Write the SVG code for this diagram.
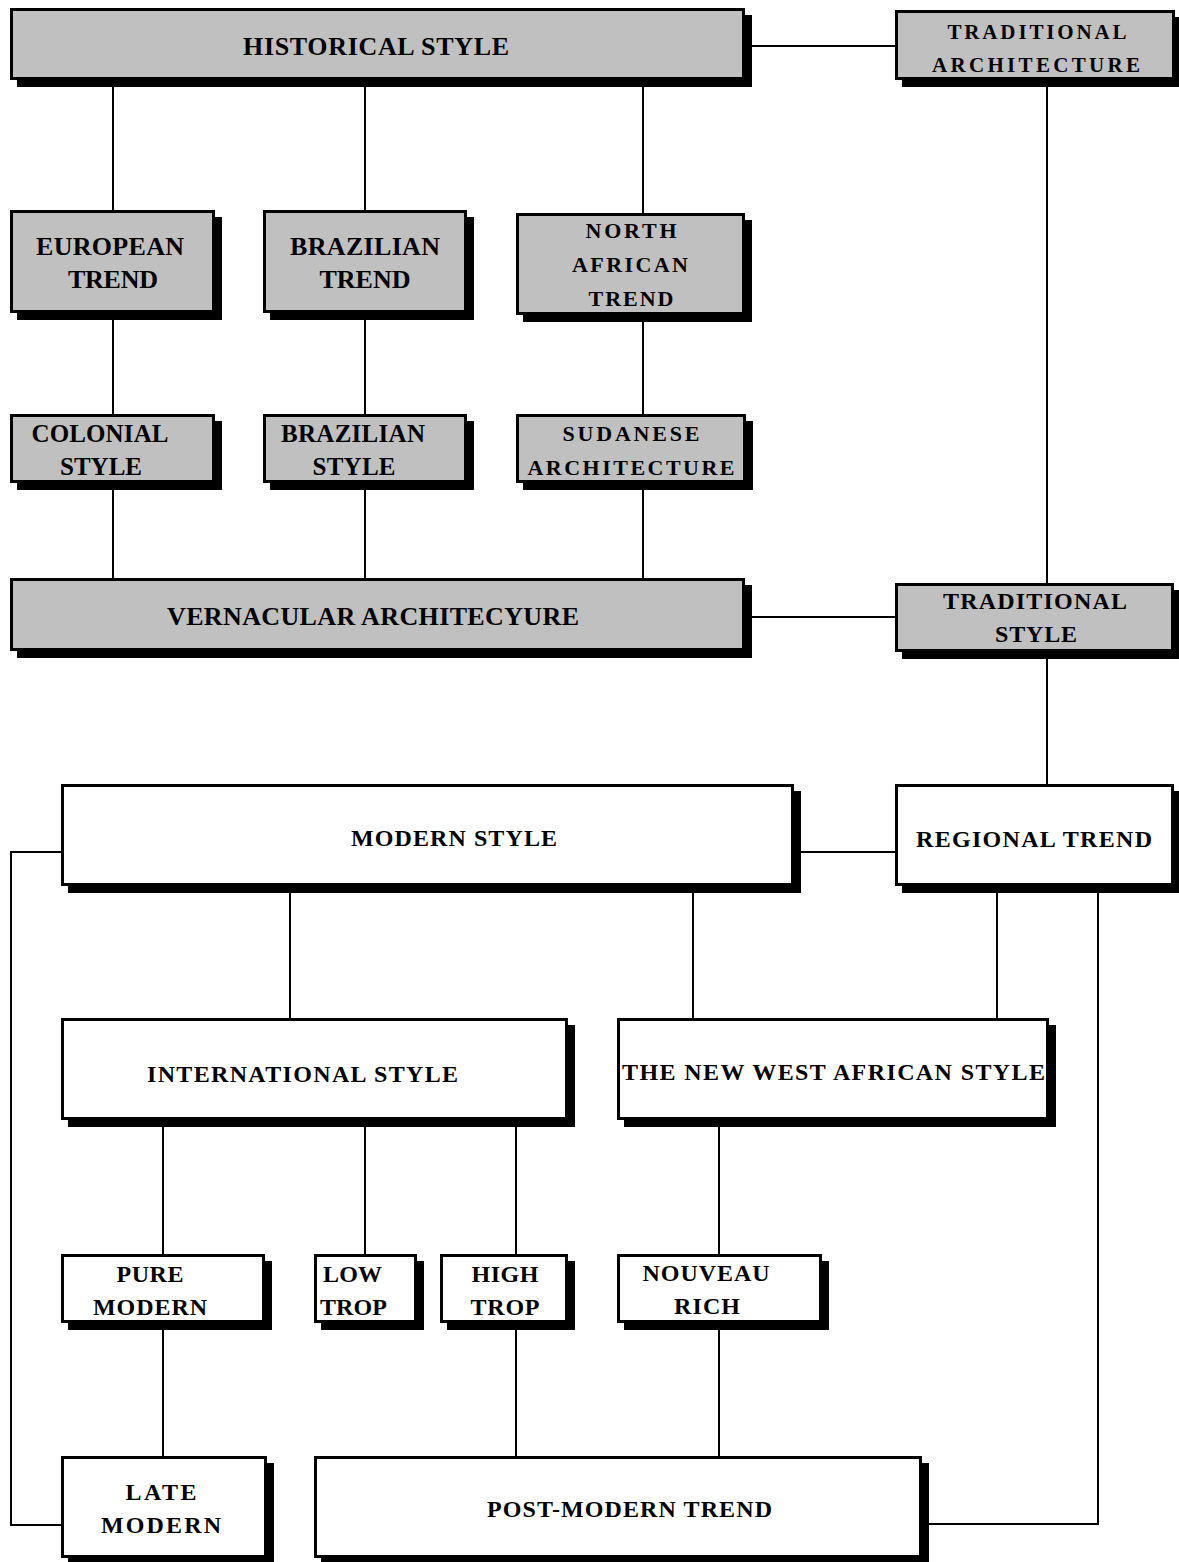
<svg xmlns="http://www.w3.org/2000/svg" width="1179" height="1562" viewBox="0 0 1179 1562">
<style>
.sh{fill:#000;}
.g{fill:#c0c0c0;stroke:#000;stroke-width:3;}
.w{fill:#fff;stroke:#000;stroke-width:3;}
.c{fill:none;stroke:#000;stroke-width:2;}
text{font-family:"Liberation Serif","Times New Roman",serif;font-weight:bold;fill:#000;text-anchor:middle;}
.s{text-anchor:start;}
</style>
<rect x="0" y="0" width="1179" height="1562" fill="#fff"/>
<g id="connectors">
<line class="c" x1="113" y1="80" x2="113" y2="210"/>
<line class="c" x1="365" y1="80" x2="365" y2="210"/>
<line class="c" x1="643" y1="80" x2="643" y2="213"/>
<line class="c" x1="745" y1="46" x2="895" y2="46"/>
<line class="c" x1="1047" y1="80" x2="1047" y2="583"/>
<line class="c" x1="113" y1="313" x2="113" y2="414"/>
<line class="c" x1="365" y1="313" x2="365" y2="414"/>
<line class="c" x1="643" y1="315" x2="643" y2="414"/>
<line class="c" x1="113" y1="483" x2="113" y2="578"/>
<line class="c" x1="365" y1="483" x2="365" y2="578"/>
<line class="c" x1="643" y1="483" x2="643" y2="578"/>
<line class="c" x1="745" y1="617" x2="895" y2="617"/>
<line class="c" x1="1047" y1="652" x2="1047" y2="784"/>
<line class="c" x1="794" y1="852" x2="895" y2="852"/>
<polyline class="c" points="61,852 11,852 11,1525 61,1525"/>
<line class="c" x1="290" y1="886" x2="290" y2="1018"/>
<line class="c" x1="693" y1="886" x2="693" y2="1018"/>
<line class="c" x1="997" y1="886" x2="997" y2="1018"/>
<polyline class="c" points="1098,886 1098,1524 922,1524"/>
<line class="c" x1="163" y1="1120" x2="163" y2="1254"/>
<line class="c" x1="365" y1="1120" x2="365" y2="1254"/>
<line class="c" x1="516" y1="1120" x2="516" y2="1254"/>
<line class="c" x1="719" y1="1120" x2="719" y2="1254"/>
<line class="c" x1="163" y1="1323" x2="163" y2="1456"/>
<line class="c" x1="516" y1="1323" x2="516" y2="1456"/>
<line class="c" x1="719" y1="1323" x2="719" y2="1456"/>
</g>
<g id="historical-style">
<rect class="sh" x="17" y="15" width="735" height="72"/>
<rect class="g" x="11.5" y="9.5" width="732" height="69"/>
<text x="376" y="55" font-size="26" textLength="266">HISTORICAL STYLE</text>
</g>
<g id="traditional-architecture">
<rect class="sh" x="902" y="17" width="280" height="70"/>
<rect class="g" x="896.5" y="11.5" width="277" height="67"/>
<text x="1037" y="39" font-size="21" textLength="179">TRADITIONAL</text>
<text x="1036" y="72" font-size="21" textLength="208">ARCHITECTURE</text>
</g>
<g id="european-trend">
<rect class="sh" x="17" y="217" width="205" height="103"/>
<rect class="g" x="11.5" y="211.5" width="202" height="100"/>
<text x="110" y="255" font-size="26" textLength="148">EUROPEAN</text>
<text x="113" y="288" font-size="26" textLength="90">TREND</text>
</g>
<g id="brazilian-trend">
<rect class="sh" x="270" y="217" width="204" height="103"/>
<rect class="g" x="264.5" y="211.5" width="201" height="100"/>
<text x="365" y="255" font-size="26" textLength="150">BRAZILIAN</text>
<text x="365" y="288" font-size="26" textLength="91">TREND</text>
</g>
<g id="north-african-trend">
<rect class="sh" x="523" y="220" width="229" height="102"/>
<rect class="g" x="517.5" y="214.5" width="226" height="99"/>
<text x="631" y="238" font-size="22" textLength="91">NORTH</text>
<text x="630" y="272" font-size="22" textLength="116">AFRICAN</text>
<text x="631" y="306" font-size="22" textLength="85">TREND</text>
</g>
<g id="colonial-style">
<rect class="sh" x="17" y="421" width="205" height="69"/>
<rect class="g" x="11.5" y="415.5" width="202" height="66"/>
<text x="100" y="442" font-size="25" textLength="137">COLONIAL</text>
<text x="101" y="475" font-size="25" textLength="82">STYLE</text>
</g>
<g id="brazilian-style">
<rect class="sh" x="270" y="421" width="204" height="69"/>
<rect class="g" x="264.5" y="415.5" width="201" height="66"/>
<text x="353" y="442" font-size="25" textLength="144">BRAZILIAN</text>
<text x="354" y="475" font-size="25" textLength="83">STYLE</text>
</g>
<g id="sudanese-architecture">
<rect class="sh" x="523" y="421" width="230" height="69"/>
<rect class="g" x="517.5" y="415.5" width="227" height="66"/>
<text x="631" y="441" font-size="22" textLength="137">SUDANESE</text>
<text x="631" y="475" font-size="22" textLength="207">ARCHITECTURE</text>
</g>
<g id="vernacular-architecture">
<rect class="sh" x="17" y="585" width="735" height="73"/>
<rect class="g" x="11.5" y="579.5" width="732" height="70"/>
<text x="373" y="625" font-size="26" textLength="412">VERNACULAR ARCHITECYURE</text>
</g>
<g id="traditional-style">
<rect class="sh" x="902" y="590" width="279" height="69"/>
<rect class="g" x="896.5" y="584.5" width="276" height="66"/>
<text x="1035" y="609" font-size="24" textLength="184">TRADITIONAL</text>
<text x="1036" y="642" font-size="24" textLength="82">STYLE</text>
</g>
<g id="modern-style">
<rect class="sh" x="68" y="791" width="733" height="102"/>
<rect class="w" x="62.5" y="785.5" width="730" height="99"/>
<text x="454" y="846" font-size="24" textLength="206">MODERN STYLE</text>
</g>
<g id="regional-trend">
<rect class="sh" x="902" y="791" width="279" height="102"/>
<rect class="w" x="896.5" y="785.5" width="276" height="99"/>
<text x="1034" y="847" font-size="24" textLength="236">REGIONAL TREND</text>
</g>
<g id="international-style">
<rect class="sh" x="68" y="1025" width="507" height="102"/>
<rect class="w" x="62.5" y="1019.5" width="504" height="99"/>
<text x="302.5" y="1082" font-size="24" textLength="311">INTERNATIONAL STYLE</text>
</g>
<g id="new-west-african-style">
<rect class="sh" x="624" y="1025" width="432" height="102"/>
<rect class="w" x="618.5" y="1019.5" width="429" height="99"/>
<text x="833.5" y="1080" font-size="24" textLength="423">THE NEW WEST AFRICAN STYLE</text>
</g>
<g id="pure-modern">
<rect class="sh" x="68" y="1261" width="204" height="69"/>
<rect class="w" x="62.5" y="1255.5" width="201" height="66"/>
<text x="150" y="1282" font-size="24" textLength="67">PURE</text>
<text x="150" y="1315" font-size="24" textLength="114">MODERN</text>
</g>
<g id="low-trop">
<rect class="sh" x="321" y="1261" width="103" height="69"/>
<rect class="w" x="315.5" y="1255.5" width="100" height="66"/>
<text class="s" x="323" y="1282" font-size="24" textLength="59">LOW</text>
<text class="s" x="320" y="1315" font-size="24" textLength="67">TROP</text>
</g>
<g id="high-trop">
<rect class="sh" x="447" y="1261" width="128" height="69"/>
<rect class="w" x="441.5" y="1255.5" width="125" height="66"/>
<text x="505" y="1282" font-size="24" textLength="67">HIGH</text>
<text x="505" y="1315" font-size="24" textLength="69">TROP</text>
</g>
<g id="nouveau-rich">
<rect class="sh" x="624" y="1261" width="205" height="69"/>
<rect class="w" x="618.5" y="1255.5" width="202" height="66"/>
<text x="706" y="1281" font-size="24" textLength="127">NOUVEAU</text>
<text x="707" y="1314" font-size="24" textLength="66">RICH</text>
</g>
<g id="late-modern">
<rect class="sh" x="68" y="1463" width="206" height="102"/>
<rect class="w" x="62.5" y="1457.5" width="203" height="99"/>
<text x="161" y="1500" font-size="24" textLength="71">LATE</text>
<text x="161" y="1533" font-size="24" textLength="120">MODERN</text>
</g>
<g id="post-modern-trend">
<rect class="sh" x="321" y="1463" width="608" height="102"/>
<rect class="w" x="315.5" y="1457.5" width="605" height="99"/>
<text x="629.5" y="1517" font-size="24" textLength="285">POST-MODERN TREND</text>
</g>
</svg>
